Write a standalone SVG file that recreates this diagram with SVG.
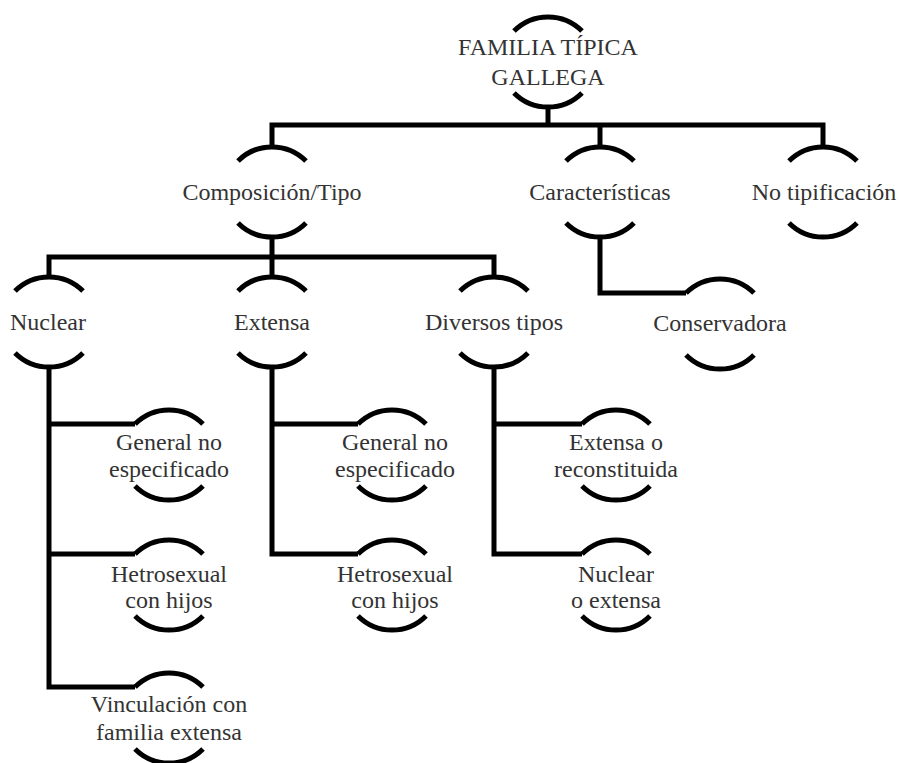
<svg xmlns="http://www.w3.org/2000/svg" xmlns:xlink="http://www.w3.org/1999/xlink" width="899" height="763" viewBox="0 0 899 763">
<defs>
<style>
.arc{fill:none;stroke:#000;stroke-width:5}
.con{fill:none;stroke:#000;stroke-width:5;stroke-linejoin:miter}
.t{font-family:"Liberation Serif","Times New Roman",serif;font-size:24px;fill:#333;text-anchor:middle}
</style>
<g id="ring">
<path class="arc" d="M-34,-31 A48,48 0 0 1 34,-31"/>
<path class="arc" d="M-34,31 A48,48 0 0 0 34,31"/>
</g>
</defs>
<rect width="899" height="763" fill="#fff"/>
<g id="connectors">
<path class="con" d="M548,107 V125"/>
<path class="con" d="M272,148 V125 H823 V148"/>
<path class="con" d="M600,125 V148"/>
<path class="con" d="M272,237 V278"/>
<path class="con" d="M49,278 V257 H494 V278"/>
<path class="con" d="M600,237 V293 H686"/>
<path class="con" d="M49,367 V687 H135"/>
<path class="con" d="M49,424 H135"/>
<path class="con" d="M49,554 H135"/>
<path class="con" d="M272,367 V554 H358"/>
<path class="con" d="M272,424 H358"/>
<path class="con" d="M494,367 V554 H582"/>
<path class="con" d="M494,424 H582"/>
</g>
<g id="n-root"><use href="#ring" xlink:href="#ring" transform="translate(548,62)"/><text class="t" x="548" y="55">FAMILIA TÍPICA</text><text class="t" x="548" y="85">GALLEGA</text></g>
<g id="n-composicion"><use href="#ring" xlink:href="#ring" transform="translate(272,192)"/><text class="t" x="272" y="200">Composición/Tipo</text></g>
<g id="n-caracteristicas"><use href="#ring" xlink:href="#ring" transform="translate(600,192)"/><text class="t" x="600" y="200">Características</text></g>
<g id="n-notipificacion"><use href="#ring" xlink:href="#ring" transform="translate(823,192)"/><text class="t" x="824" y="200">No tipificación</text></g>
<g id="n-nuclear"><use href="#ring" xlink:href="#ring" transform="translate(49,322)"/><text class="t" x="48" y="330">Nuclear</text></g>
<g id="n-extensa"><use href="#ring" xlink:href="#ring" transform="translate(272,322)"/><text class="t" x="272" y="330">Extensa</text></g>
<g id="n-diversos"><use href="#ring" xlink:href="#ring" transform="translate(494,322)"/><text class="t" x="494" y="330">Diversos tipos</text></g>
<g id="n-conservadora"><use href="#ring" xlink:href="#ring" transform="translate(720,324)"/><text class="t" x="720" y="331">Conservadora</text></g>
<g id="n-nuc-general"><use href="#ring" xlink:href="#ring" transform="translate(169,455)"/><text class="t" x="169" y="450">General no</text><text class="t" x="169" y="477">especificado</text></g>
<g id="n-nuc-hetero"><use href="#ring" xlink:href="#ring" transform="translate(169,585)"/><text class="t" x="169" y="582">Hetrosexual</text><text class="t" x="169" y="608">con hijos</text></g>
<g id="n-nuc-vinculacion"><use href="#ring" xlink:href="#ring" transform="translate(169,718)"/><text class="t" x="169" y="712">Vinculación con</text><text class="t" x="169" y="740">familia extensa</text></g>
<g id="n-ext-general"><use href="#ring" xlink:href="#ring" transform="translate(392,455)"/><text class="t" x="395" y="450">General no</text><text class="t" x="395" y="477">especificado</text></g>
<g id="n-ext-hetero"><use href="#ring" xlink:href="#ring" transform="translate(392,585)"/><text class="t" x="395" y="582">Hetrosexual</text><text class="t" x="395" y="608">con hijos</text></g>
<g id="n-div-extensa"><use href="#ring" xlink:href="#ring" transform="translate(616,455)"/><text class="t" x="616" y="450">Extensa o</text><text class="t" x="616" y="477">reconstituida</text></g>
<g id="n-div-nuclear"><use href="#ring" xlink:href="#ring" transform="translate(616,585)"/><text class="t" x="616" y="582">Nuclear</text><text class="t" x="616" y="608">o extensa</text></g>
</svg>
